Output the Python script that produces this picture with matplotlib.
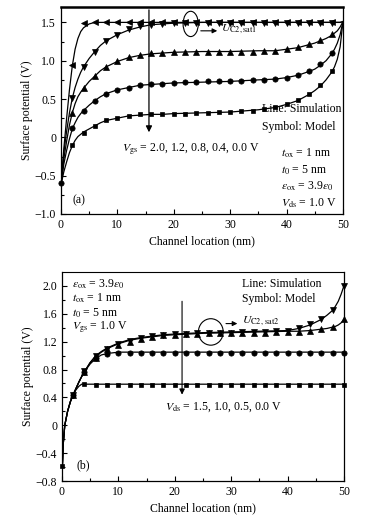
import matplotlib
matplotlib.use('Agg')
import matplotlib.pyplot as plt
from matplotlib.patches import Ellipse

plt.rcParams['font.family'] = ['Liberation Serif', 'DejaVu Serif']
plt.rcParams['mathtext.fontset'] = 'stix'
plt.rcParams['font.size'] = 8.5

# ---------------- panel (a): Vds = 1.0 V, different Vgs ----------------
xa_line = [0, 0.5, 1, 1.5, 2, 2.5, 3, 3.5, 4, 5, 6, 7, 8, 10, 12, 14, 16, 18, 20,
           25, 30, 35, 38, 40, 42, 44, 45, 46, 47, 48, 48.5, 49, 49.5, 50]
# simulation lines
a_sim_20 = [-0.62, -0.15, 0.25, 0.62, 0.93, 1.15, 1.29, 1.38, 1.43, 1.48, 1.50, 1.50, 1.50, 1.50, 1.50, 1.50, 1.50, 1.50, 1.50,
            1.50, 1.50, 1.50, 1.50, 1.50, 1.50, 1.50, 1.50, 1.50, 1.50, 1.50, 1.50, 1.50, 1.50, 1.51]
a_sim_12 = [-0.62, -0.20, 0.08, 0.32, 0.51, 0.65, 0.76, 0.85, 0.92, 1.03, 1.12, 1.20, 1.26, 1.34, 1.40, 1.44, 1.47, 1.48, 1.49,
            1.50, 1.50, 1.50, 1.50, 1.50, 1.50, 1.50, 1.50, 1.50, 1.50, 1.50, 1.50, 1.50, 1.50, 1.51]
a_sim_08 = [-0.62, -0.28, -0.05, 0.16, 0.32, 0.44, 0.53, 0.59, 0.64, 0.73, 0.80, 0.87, 0.92, 0.99, 1.04, 1.07, 1.09, 1.10, 1.11,
            1.12, 1.12, 1.13, 1.13, 1.15, 1.17, 1.21, 1.23, 1.26, 1.29, 1.33, 1.36, 1.39, 1.44, 1.51]
a_sim_04 = [-0.62, -0.35, -0.17, -0.02, 0.11, 0.19, 0.26, 0.31, 0.35, 0.42, 0.48, 0.53, 0.57, 0.62, 0.65, 0.68, 0.69, 0.70, 0.71,
            0.72, 0.73, 0.75, 0.76, 0.78, 0.81, 0.86, 0.89, 0.94, 1.00, 1.09, 1.15, 1.23, 1.34, 1.51]
a_sim_00 = [-0.62, -0.45, -0.32, -0.20, -0.11, -0.04, 0.01, 0.04, 0.07, 0.11, 0.15, 0.19, 0.22, 0.25, 0.28, 0.29, 0.30, 0.30, 0.31,
            0.32, 0.33, 0.36, 0.39, 0.43, 0.48, 0.56, 0.61, 0.67, 0.75, 0.85, 0.92, 1.02, 1.18, 1.51]

# model symbols
xa_mod = [2, 4, 6, 8, 10, 12, 14, 16, 18, 20, 22, 24, 26, 28, 30, 32, 34, 36, 38, 40, 42, 44, 46, 48]
a_mod_20 = [0.95, 1.49, 1.50, 1.50, 1.50, 1.50, 1.50, 1.50, 1.50, 1.50, 1.50, 1.50,
            1.50, 1.50, 1.50, 1.50, 1.50, 1.50, 1.50, 1.50, 1.50, 1.50, 1.50, 1.50]
a_mod_12 = [0.51, 0.92, 1.12, 1.26, 1.34, 1.41, 1.45, 1.47, 1.48, 1.49, 1.49, 1.49,
            1.49, 1.49, 1.49, 1.49, 1.49, 1.49, 1.49, 1.49, 1.49, 1.49, 1.49, 1.49]
a_mod_08 = [0.32, 0.64, 0.80, 0.92, 0.99, 1.05, 1.07, 1.10, 1.10, 1.11, 1.11, 1.12,
            1.12, 1.12, 1.12, 1.12, 1.12, 1.13, 1.13, 1.15, 1.18, 1.22, 1.27, 1.35]
a_mod_04 = [0.12, 0.35, 0.48, 0.57, 0.62, 0.65, 0.68, 0.70, 0.70, 0.71, 0.72, 0.72,
            0.73, 0.73, 0.74, 0.74, 0.75, 0.75, 0.76, 0.78, 0.82, 0.86, 0.96, 1.10]
a_mod_00 = [-0.10, 0.06, 0.15, 0.22, 0.25, 0.28, 0.30, 0.30, 0.30, 0.31, 0.31, 0.32,
            0.32, 0.33, 0.33, 0.34, 0.35, 0.37, 0.40, 0.44, 0.49, 0.57, 0.68, 0.86]
a_start = [0, -0.59]

# ---------------- panel (b): Vgs = 1.0 V, different Vds ----------------
xb_line = [0, 0.2, 0.5, 1, 1.5, 2, 2.5, 3, 3.5, 4, 5, 6, 7, 8, 10, 12, 14, 16, 18, 20,
           25, 30, 35, 40, 42, 44, 45, 46, 47, 48, 48.5, 49, 49.5, 50]
b_sim_15 = [-0.78, -0.30, 0.00, 0.20, 0.34, 0.44, 0.53, 0.62, 0.70, 0.77, 0.90, 1.00, 1.06, 1.11, 1.18, 1.23, 1.26, 1.28, 1.30, 1.31,
            1.33, 1.34, 1.35, 1.36, 1.39, 1.44, 1.48, 1.52, 1.58, 1.65, 1.71, 1.78, 1.88, 2.00]
b_sim_10 = [-0.78, -0.30, 0.00, 0.20, 0.34, 0.44, 0.53, 0.62, 0.70, 0.77, 0.90, 0.99, 1.05, 1.10, 1.17, 1.22, 1.25, 1.27, 1.29, 1.30,
            1.32, 1.33, 1.34, 1.35, 1.35, 1.36, 1.37, 1.38, 1.39, 1.41, 1.42, 1.44, 1.47, 1.52]
b_sim_05 = [-0.78, -0.30, 0.00, 0.20, 0.34, 0.44, 0.53, 0.62, 0.70, 0.77, 0.88, 0.96, 1.01, 1.03, 1.05, 1.05, 1.05, 1.05, 1.05, 1.05,
            1.05, 1.05, 1.05, 1.05, 1.05, 1.05, 1.05, 1.05, 1.05, 1.05, 1.05, 1.05, 1.05, 1.05]
b_sim_00 = [-0.78, -0.30, 0.00, 0.20, 0.34, 0.44, 0.51, 0.56, 0.59, 0.59, 0.59, 0.59, 0.59, 0.59, 0.59, 0.59, 0.59, 0.59, 0.59, 0.59,
            0.59, 0.59, 0.59, 0.59, 0.59, 0.59, 0.59, 0.59, 0.59, 0.59, 0.59, 0.59, 0.59, 0.59]

xb_mod = [2, 4, 6, 8, 10, 12, 14, 16, 18, 20, 22, 24, 26, 28, 30, 32, 34, 36, 38, 40, 42, 44, 46, 48, 50]
b_mod_15 = [0.44, 0.78, 0.99, 1.10, 1.16, 1.21, 1.25, 1.28, 1.29, 1.31, 1.31, 1.32, 1.33,
            1.33, 1.33, 1.34, 1.34, 1.34, 1.35, 1.36, 1.39, 1.45, 1.53, 1.66, 2.00]
b_mod_10 = [0.43, 0.77, 0.97, 1.09, 1.15, 1.20, 1.24, 1.27, 1.29, 1.30, 1.31, 1.31, 1.32,
            1.32, 1.33, 1.33, 1.33, 1.33, 1.34, 1.34, 1.34, 1.36, 1.38, 1.41, 1.52]
b_mod_05 = [0.43, 0.77, 0.96, 1.03, 1.04, 1.04, 1.04, 1.04, 1.04, 1.04, 1.04, 1.04, 1.04,
            1.04, 1.04, 1.04, 1.04, 1.04, 1.04, 1.04, 1.04, 1.04, 1.04, 1.04, 1.04]
b_mod_00 = [0.43, 0.59, 0.58, 0.58, 0.58, 0.58, 0.58, 0.58, 0.58, 0.58, 0.58, 0.58, 0.58,
            0.58, 0.58, 0.58, 0.58, 0.58, 0.58, 0.58, 0.58, 0.58, 0.58, 0.58, 0.58]
b_start = [0, -0.58]

fig = plt.figure(figsize=(3.8, 5.16), dpi=100)
ax1 = fig.add_axes([0.1605, 0.5853, 0.742, 0.401])
ax2 = fig.add_axes([0.163, 0.0678, 0.742, 0.405])

lw = 0.9
ms = 3.8
mk = dict(color='black', mfc='black', mec='black', mew=0.5, ls='none')

# panel (a)
for ys in [a_sim_20, a_sim_12, a_sim_08, a_sim_04, a_sim_00]:
    ax1.plot(xa_line, ys, color='black', lw=lw)
ax1.plot(xa_mod, a_mod_20, marker='<', ms=ms, **mk)
ax1.plot(xa_mod, a_mod_12, marker='v', ms=ms, **mk)
ax1.plot(xa_mod, a_mod_08, marker='^', ms=ms, **mk)
ax1.plot(xa_mod, a_mod_04, marker='o', ms=ms, **mk)
ax1.plot(xa_mod, a_mod_00, marker='s', ms=ms - 0.6, **mk)
ax1.plot(a_start[0], a_start[1], marker='o', ms=ms, clip_on=False, **mk)

ax1.set_xlim(0, 50)
ax1.set_ylim(-1.0, 1.7)
ax1.set_xticks([0, 10, 20, 30, 40, 50])
ax1.set_xticks([5, 15, 25, 35, 45], minor=True)
ax1.set_yticks([-1.0, -0.5, 0, 0.5, 1.0, 1.5])
ax1.set_yticklabels(['\u22121.0', '\u22120.5', '0', '0.5', '1.0', '1.5'])
ax1.set_yticks([-0.75, -0.25, 0.25, 0.75, 1.25], minor=True)
ax1.set_xlabel('Channel location (nm)', labelpad=3)
ax1.set_ylabel('Surface potential (V)', labelpad=1)
ax1.spines['top'].set_linewidth(1.8)

ax1.annotate('', xy=(15.6, 0.03), xytext=(15.6, 1.7),
             arrowprops=dict(arrowstyle='-|>', color='black', lw=0.9, mutation_scale=9))
ax1.text(10.8, -0.15, r'$V_{\rm gs}$ = 2.0, 1.2, 0.8, 0.4, 0.0 V', ha='left', va='center')
ax1.add_patch(Ellipse((23.0, 1.48), 2.7, 0.33, fill=False, color='black', lw=0.8))
ax1.annotate('', xy=(28.2, 1.39), xytext=(24.3, 1.39),
             arrowprops=dict(arrowstyle='-|>', color='black', lw=0.8, mutation_scale=7))
ax1.text(28.4, 1.41, r'$U_{\rm C2,sat1}$', ha='left', va='center')
ax1.text(35.6, 0.37, 'Line: Simulation', ha='left', va='center')
ax1.text(35.6, 0.13, 'Symbol: Model', ha='left', va='center')
ax1.text(39.0, -0.21, r'$t_{\rm ox}$ = 1 nm', ha='left', va='center')
ax1.text(39.0, -0.43, r'$t_0$ = 5 nm', ha='left', va='center')
ax1.text(39.0, -0.64, r'$\varepsilon_{\rm ox}$ = 3.9$\varepsilon_0$', ha='left', va='center')
ax1.text(39.0, -0.86, r'$V_{\rm ds}$ = 1.0 V', ha='left', va='center')
ax1.text(2.0, -0.82, '(a)', ha='left', va='center')

# panel (b)
for ys in [b_sim_15, b_sim_10, b_sim_05, b_sim_00]:
    ax2.plot(xb_line, ys, color='black', lw=lw)
ax2.plot(xb_mod, b_mod_15, marker='v', ms=ms, clip_on=False, **mk)
ax2.plot(xb_mod, b_mod_10, marker='^', ms=ms, clip_on=False, **mk)
ax2.plot(xb_mod, b_mod_05, marker='o', ms=ms, clip_on=False, **mk)
ax2.plot(xb_mod, b_mod_00, marker='s', ms=ms - 0.6, clip_on=False, **mk)
ax2.plot(b_start[0], b_start[1], marker='s', ms=ms - 0.6, clip_on=False, **mk)

ax2.set_xlim(0, 50)
ax2.set_ylim(-0.8, 2.2)
ax2.set_xticks([0, 10, 20, 30, 40, 50])
ax2.set_xticks([5, 15, 25, 35, 45], minor=True)
ax2.set_yticks([-0.8, -0.4, 0, 0.4, 0.8, 1.2, 1.6, 2.0])
ax2.set_yticklabels(['\u22120.8', '\u22120.4', '0', '0.4', '0.8', '1.2', '1.6', '2.0'])
ax2.set_yticks([-0.6, -0.2, 0.2, 0.6, 1.0, 1.4, 1.8], minor=True)
ax2.set_xlabel('Channel location (nm)', labelpad=3)
ax2.set_ylabel('Surface potential (V)', labelpad=1)

ax2.text(1.8, 2.03, r'$\varepsilon_{\rm ox}$ = 3.9$\varepsilon_0$', ha='left', va='center')
ax2.text(1.8, 1.83, r'$t_{\rm ox}$ = 1 nm', ha='left', va='center')
ax2.text(1.8, 1.61, r'$t_0$ = 5 nm', ha='left', va='center')
ax2.text(1.8, 1.41, r'$V_{\rm gs}$ = 1.0 V', ha='left', va='center')
ax2.text(31.9, 2.03, 'Line: Simulation', ha='left', va='center')
ax2.text(31.9, 1.82, 'Symbol: Model', ha='left', va='center')
ax2.annotate('', xy=(21.3, 0.40), xytext=(21.3, 1.82),
             arrowprops=dict(arrowstyle='-|>', color='black', lw=0.8, mutation_scale=8))
ax2.text(18.2, 0.26, r'$V_{\rm ds}$ = 1.5, 1.0, 0.5, 0.0 V', ha='left', va='center')
ax2.add_patch(Ellipse((26.4, 1.34), 4.4, 0.38, fill=False, color='black', lw=0.8))
ax2.annotate('', xy=(31.6, 1.46), xytext=(28.6, 1.46),
             arrowprops=dict(arrowstyle='-|>', color='black', lw=0.8, mutation_scale=7))
ax2.text(31.9, 1.50, r'$U_{\rm C2,\,sat2}$', ha='left', va='center')
ax2.text(2.6, -0.57, '(b)', ha='left', va='center')

for ax in [ax1, ax2]:
    ax.tick_params(which='both', direction='in', top=False, right=False)
    ax.tick_params(which='major', length=3.5, width=0.8)
    ax.tick_params(which='minor', length=2, width=0.8)
    for s in ['left', 'right', 'bottom']:
        ax.spines[s].set_linewidth(0.9)

fig.savefig('out.png', dpi=100)
